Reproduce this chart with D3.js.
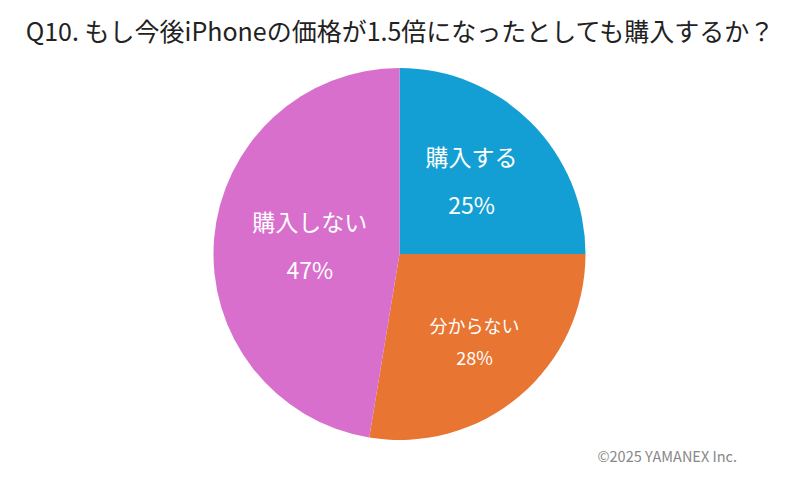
<!DOCTYPE html>
<html><head><meta charset="utf-8">
<script src="https://cdn.jsdelivr.net/npm/d3@7"></script>
<style>body{margin:0;background:#fff}svg{display:block}</style>
</head><body>
<svg id="c" width="800" height="482"></svg>
<script>
const title = "Q10. もし今後iPhoneの価格が1.5倍になったとしても購入するか？";
const categories = ["購入する", "分からない", "購入しない"];
const values = [25.0, 27.6, 47.4];
const pctLabels = ["25%", "28%", "47%"];
const colors = ["#139fd3", "#e87532", "#d86fcd"];
const credit = "©2025 YAMANEX Inc.";

const labelRadius = [102, 116, 90];
const nameSize = [23, 18, 23];
const pctSize = [23, 18, 23];
const lineGap = [24, 16, 24];

const svg = d3.select("#c");
const font = "'Noto Sans CJK JP','Noto Sans',sans-serif";
const cx = 399.5, cy = 254, r = 186;

svg.append("text").attr("x", 400).attr("y", 41).attr("text-anchor", "middle")
  .attr("font-family", font).attr("font-size", 25).attr("fill", "#222").text(title);

const pie = d3.pie().sort(null).value(d => d)(values);
const arc = d3.arc().innerRadius(0).outerRadius(r);
const g = svg.append("g").attr("transform", `translate(${cx},${cy})`);
g.selectAll("path").data(pie).enter().append("path")
  .attr("d", arc).attr("fill", (d, i) => colors[i]);

pie.forEach((d, i) => {
  const la = d3.arc().innerRadius(labelRadius[i]).outerRadius(labelRadius[i]);
  const [x, y] = la.centroid(d);
  g.append("text").attr("x", x).attr("y", y - lineGap[i] + nameSize[i] * 0.35)
    .attr("text-anchor", "middle").attr("font-family", font).attr("font-size", nameSize[i])
    .attr("fill", "#fff").text(categories[i]);
  g.append("text").attr("x", x).attr("y", y + lineGap[i] + pctSize[i] * 0.35)
    .attr("text-anchor", "middle").attr("font-family", font).attr("font-size", pctSize[i])
    .attr("fill", "#fff").text(pctLabels[i]);
});

svg.append("text").attr("x", 737).attr("y", 462).attr("text-anchor", "end")
  .attr("font-family", font).attr("font-size", 14.5).attr("fill", "#888").text(credit);
</script>
</body></html>
